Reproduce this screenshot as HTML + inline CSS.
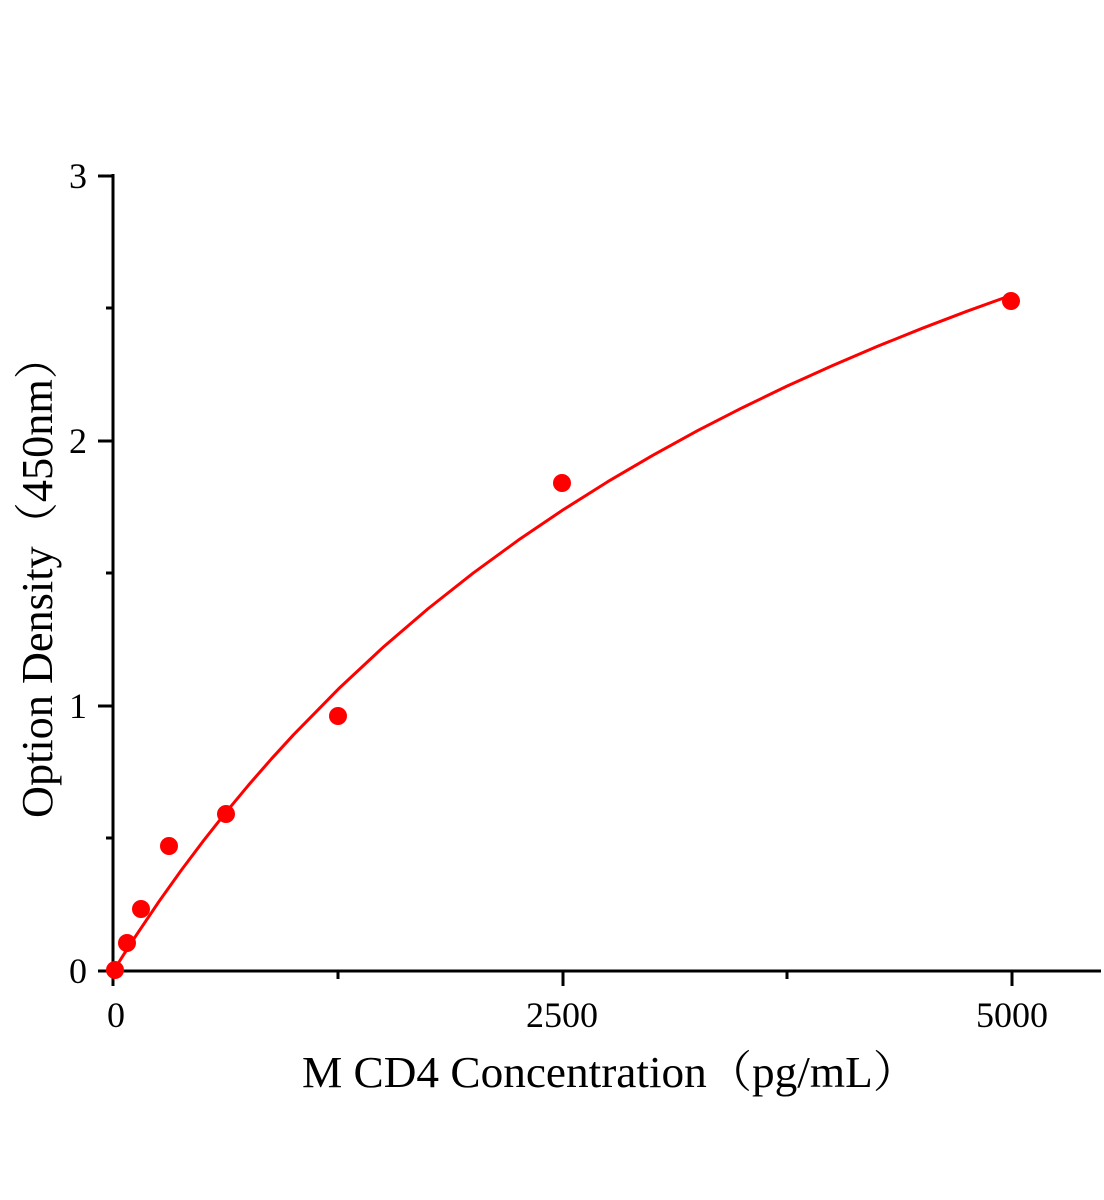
<!DOCTYPE html>
<html><head><meta charset="utf-8"><style>
html,body{margin:0;padding:0;background:#fff;}
svg{display:block;}
</style></head><body>
<svg width="1104" height="1200" viewBox="0 0 1104 1200" xmlns="http://www.w3.org/2000/svg" font-family="'Liberation Serif', 'Noto Serif CJK SC', serif">
<rect width="1104" height="1200" fill="#fff"/>
<g stroke="#000" stroke-width="3" fill="none">
<line x1="113" y1="174" x2="113" y2="986"/>
<line x1="112" y1="971" x2="1101" y2="971"/>
<line x1="98" y1="176" x2="113" y2="176"/>
<line x1="98" y1="441" x2="113" y2="441"/>
<line x1="98" y1="706" x2="113" y2="706"/>
<line x1="98" y1="971" x2="113" y2="971"/>
<line x1="106" y1="308" x2="113" y2="308"/>
<line x1="106" y1="573" x2="113" y2="573"/>
<line x1="106" y1="838" x2="113" y2="838"/>
<line x1="563" y1="971" x2="563" y2="986"/>
<line x1="1012" y1="971" x2="1012" y2="986"/>
<line x1="338" y1="971" x2="338" y2="979"/>
<line x1="787" y1="971" x2="787" y2="979"/>
</g>
<g font-size="36" text-anchor="end" font-family="'Liberation Serif', serif">
<text x="87" y="188">3</text>
<text x="87" y="453">2</text>
<text x="87" y="718">1</text>
<text x="87" y="983">0</text>
</g>
<g font-size="36" text-anchor="middle" font-family="'Liberation Serif', serif">
<text x="116" y="1027">0</text>
<text x="562" y="1027">2500</text>
<text x="1012" y="1027">5000</text>
</g>
<text x="302" y="1087" font-size="44" textLength="616" lengthAdjust="spacingAndGlyphs" font-family="'Liberation Serif', 'Noto Serif CJK SC', serif">M CD4 Concentration（pg/mL）</text>
<text transform="translate(52,818) rotate(-90)" font-size="44" textLength="483" lengthAdjust="spacingAndGlyphs" font-family="'Liberation Serif', 'Noto Serif CJK SC', serif">Option Density（450nm）</text>
<polyline fill="none" stroke="#f00" stroke-width="3" stroke-linejoin="round" points="114,970 123,955.7 132,941.7 136.45,934.9 158.9,901.6 181.35,870.1 203.8,840.3 226.25,811.9 248.7,784.9 271.15,759.2 293.6,734.7 338.5,688.9 383.4,647 428.3,608.5 473.2,573.1 518.1,540.3 563,509.9 607.9,481.6 652.8,455.3 697.7,430.6 742.6,407.6 787.5,385.9 832.4,365.6 877.3,346.4 922.2,328.3 967.1,311.2 1012,295"/>
<g fill="#f00">
<circle cx="115" cy="970" r="9"/>
<circle cx="127" cy="943" r="9"/>
<circle cx="141" cy="909" r="9"/>
<circle cx="169" cy="846" r="9"/>
<circle cx="226" cy="814" r="9"/>
<circle cx="338" cy="716" r="9"/>
<circle cx="562" cy="483" r="9"/>
<circle cx="1011" cy="301" r="9"/>
</g>
</svg>
</body></html>
